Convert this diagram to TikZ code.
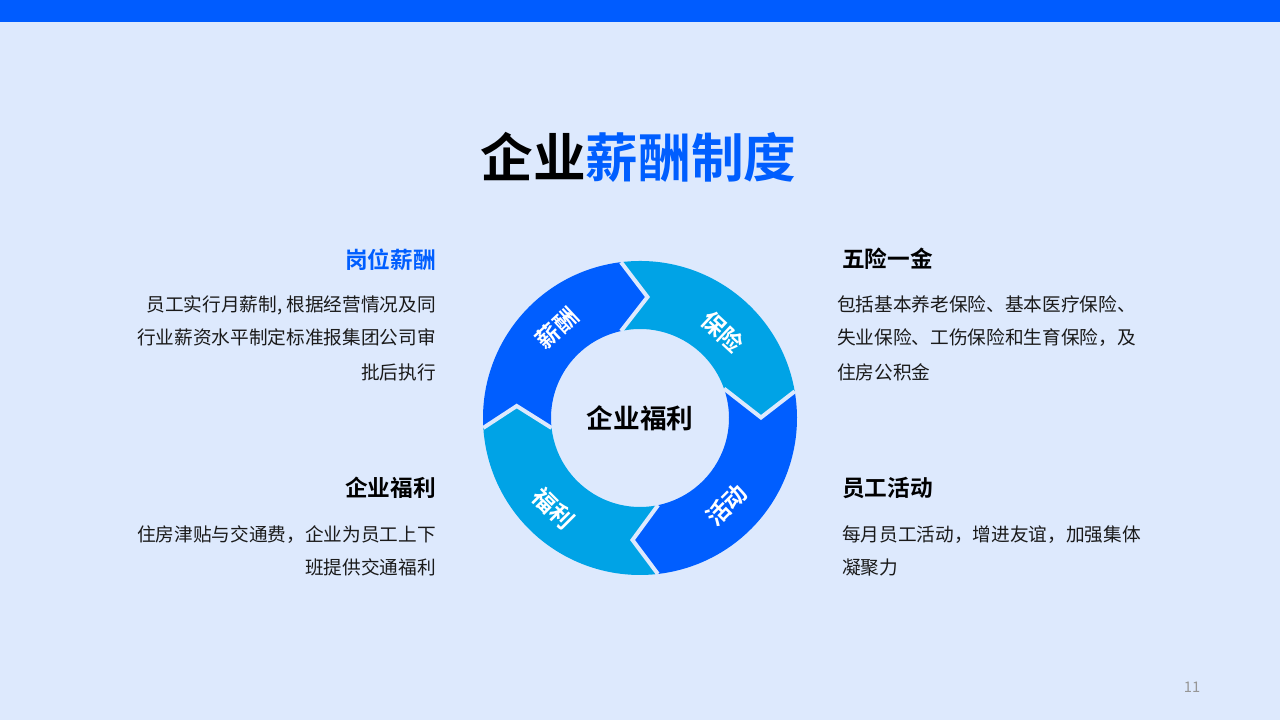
\documentclass[tikz,border=0pt]{standalone}
\usepackage{fontspec}
\setmainfont{Noto Sans CJK SC}[BoldFont={Noto Sans CJK SC Bold}]
\definecolor{bg}{RGB}{221,233,253}
\definecolor{bar}{RGB}{0,92,255}
\definecolor{darkb}{RGB}{0,94,255}
\definecolor{lightb}{RGB}{0,163,230}
\definecolor{titleblue}{RGB}{0,94,255}
\definecolor{txt}{RGB}{26,26,26}
\definecolor{pgnum}{RGB}{150,150,150}
\begin{document}
\begin{tikzpicture}[x=0.75pt,y=0.75pt,
  body/.style={inner sep=0pt,text=txt,font=\fontsize{14pt}{16pt}\selectfont},
  headl/.style={inner sep=0pt,font=\bfseries\fontsize{17pt}{19pt}\selectfont},
  ringlab/.style={inner sep=0pt,text=white,font=\bfseries\fontsize{17.5pt}{19pt}\selectfont},
  gapline/.style={draw=bg,line width=3pt,line join=miter,line cap=butt}]
\path[use as bounding box,fill=bg] (0,0) rectangle (1280,720);
\fill[bar] (0,698) rectangle (1280,720);

% title
\node[anchor=base,inner sep=0pt,font=\bfseries\fontsize{39.5pt}{42pt}\selectfont] (title) at (638.5,542)
  {\textcolor{black}{企业}\textcolor{titleblue}{薪酬制度}};

% ring geometry
\def\ROut{117.75pt}
\def\RIn{66.75pt}
\coordinate (C) at (640,302);
\coordinate (tT) at (647.5,423);
\coordinate (tR) at (761,302.5);
\coordinate (tB) at (632.5,180);
\coordinate (tL) at (516.7,314);
\coordinate (oT) at ([shift={(C)}]96.97:\ROut);
\coordinate (iT) at ([shift={(C)}]102.3:\RIn);
\coordinate (oR) at ([shift={(C)}]9.76:\ROut);
\coordinate (iR) at ([shift={(C)}]19.26:\RIn);
\coordinate (oB) at ([shift={(C)}]276.54:\ROut);
\coordinate (iB) at ([shift={(C)}]281.7:\RIn);
\coordinate (oL) at ([shift={(C)}]183.6:\ROut);
\coordinate (iL) at ([shift={(C)}]186.4:\RIn);

\fill[darkb] (oL) arc[start angle=183.6,end angle=96.97,radius=\ROut] -- (tT) -- (iT)
  arc[start angle=102.3,end angle=186.4,radius=\RIn] -- (tL) -- cycle;
\fill[lightb] (oT) arc[start angle=96.97,end angle=9.76,radius=\ROut] -- (tR) -- (iR)
  arc[start angle=19.26,end angle=102.3,radius=\RIn] -- (tT) -- cycle;
\fill[darkb] (oR) arc[start angle=9.76,end angle=-83.46,radius=\ROut] -- (tB) -- (iB)
  arc[start angle=-78.3,end angle=19.26,radius=\RIn] -- (tR) -- cycle;
\fill[lightb] (oB) arc[start angle=276.54,end angle=183.6,radius=\ROut] -- (tL) -- (iL)
  arc[start angle=186.4,end angle=281.7,radius=\RIn] -- (tB) -- cycle;

\draw[gapline] (oT) -- (tT) -- (iT);
\draw[gapline] (oR) -- (tR) -- (iR);
\draw[gapline] (oB) -- (tB) -- (iB);
\draw[gapline] (oL) -- (tL) -- (iL);

\node[ringlab,rotate=43] (lxc) at (557,392) {薪酬};
\node[ringlab,rotate=-43] (lbx) at (723,388.3) {保险};
\node[ringlab,rotate=45] (lhd) at (726.7,215) {活动};
\node[ringlab,rotate=-45] (lfl) at (553.3,211.7) {福利};

\node[inner sep=0pt,text=black,font=\bfseries\fontsize{20pt}{22pt}\selectfont] (center) at (C) {企业福利};

% left column
\node[headl,text=titleblue,anchor=base east] (h1) at (436,451.4) {岗位薪酬};
\node[body,anchor=base east] (p1a) at (436,408) {员工实行月薪制, 根据经营情况及同};
\node[body,anchor=base east] (p1b) at (436,375) {行业薪资水平制定标准报集团公司审};
\node[body,anchor=base east] (p1c) at (436,340) {批后执行};

\node[headl,text=black,anchor=base east] (h3) at (436,223.4) {企业福利};
\node[body,anchor=base east] (p3a) at (436,178) {住房津贴与交通费，企业为员工上下};
\node[body,anchor=base east] (p3b) at (436,145) {班提供交通福利};

% right column
\node[headl,text=black,anchor=base west] (h2) at (842,452.4) {五险一金};
\node[body,anchor=base west] (p2a) at (837,408) {包括基本养老保险、基本医疗保险、};
\node[body,anchor=base west] (p2b) at (837,375) {失业保险、工伤保险和生育保险，及};
\node[body,anchor=base west] (p2c) at (837,340) {住房公积金};

\node[headl,text=black,anchor=base west] (h4) at (842,223.4) {员工活动};
\node[body,anchor=base west] (p4a) at (842,178) {每月员工活动，增进友谊，加强集体};
\node[body,anchor=base west] (p4b) at (842,145) {凝聚力};

\node[inner sep=0pt,text=pgnum,font=\fontsize{11pt}{12pt}\selectfont] (pg) at (1192,33) {11};
\end{tikzpicture}
\end{document}
